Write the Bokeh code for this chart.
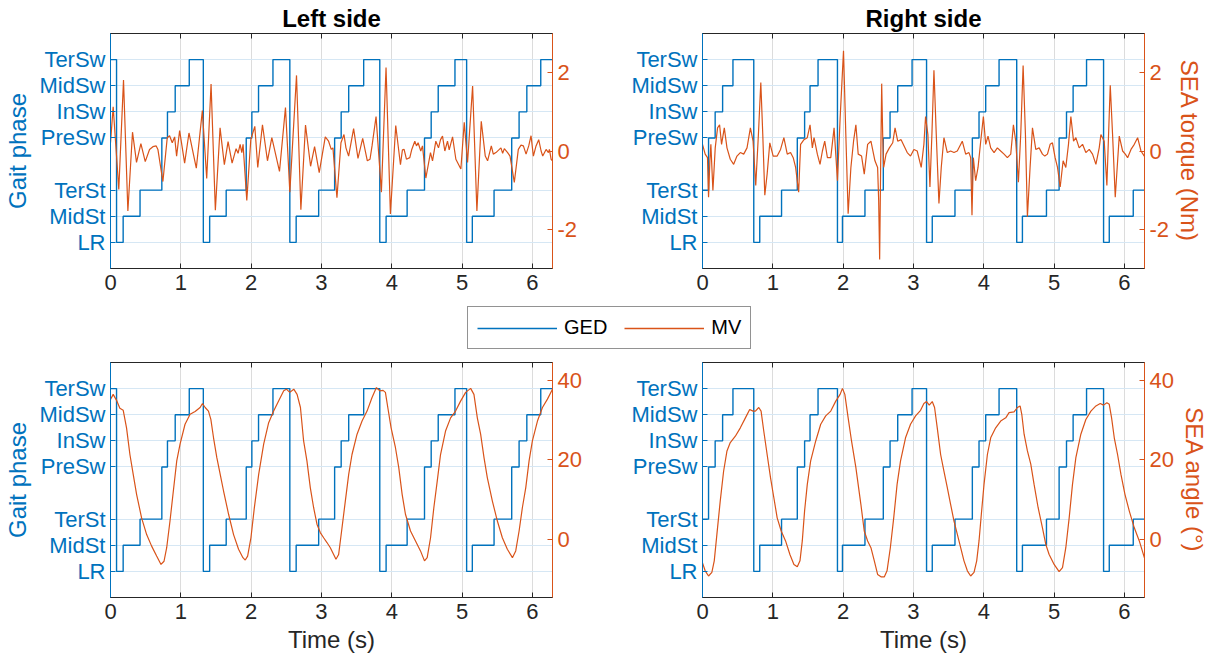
from bokeh.plotting import figure
from bokeh.models import Range1d, LinearAxis, FixedTicker, Legend, LegendItem, CustomLabelingPolicy
from bokeh.layouts import column, row
from bokeh.embed import file_html
from bokeh.resources import INLINE

BLUE = "#0072BD"
ORANGE = "#D95319"
DARK = "#262626"
FONT = "Liberation Sans"

phase_labels = ["LR", "MidSt", "TerSt", "PreSw", "InSw", "MidSw", "TerSw"]
phase_levels = [1, 2, 3, 5, 6, 7, 8]
x_ticks = [0, 1, 2, 3, 4, 5, 6]
torque_ticks = [-2, 0, 2]
angle_ticks = [0, 20, 40]

# GED gait-phase sequence, left side (change times in s, phase entered)
left_ged_t = [0, 0.086, 0.18, 0.42, 0.73, 0.81, 0.92, 1.12, 1.32, 1.41, 1.645, 1.93, 2.01, 2.105,
              2.31, 2.55, 2.64, 2.96, 3.187, 3.28, 3.387, 3.60, 3.829, 3.919, 4.218, 4.465, 4.56,
              4.66, 4.898, 5.064, 5.145, 5.454, 5.705, 5.81, 5.92, 6.118, 6.29]
left_ged_phase = ["TerSw", "LR", "MidSt", "TerSt", "PreSw", "InSw", "MidSw", "TerSw", "LR", "MidSt",
                  "TerSt", "PreSw", "InSw", "MidSw", "TerSw", "LR", "MidSt", "TerSt", "PreSw", "InSw",
                  "MidSw", "TerSw", "LR", "MidSt", "TerSt", "PreSw", "InSw", "MidSw", "TerSw", "LR",
                  "MidSt", "TerSt", "PreSw", "InSw", "MidSw", "TerSw", "TerSw"]

# GED gait-phase sequence, right side
right_ged_t = [0, 0.086, 0.18, 0.286, 0.433, 0.729, 0.814, 1.124, 1.348, 1.452, 1.529, 1.643, 1.919,
               1.99, 2.31, 2.571, 2.667, 2.776, 2.98, 3.186, 3.267, 3.59, 3.837, 3.932, 4.027, 4.217,
               4.468, 4.549, 4.891, 5.071, 5.176, 5.27, 5.461, 5.703, 5.784, 6.125, 6.29]
right_ged_phase = ["TerSt", "PreSw", "InSw", "MidSw", "TerSw", "LR", "MidSt", "TerSt", "PreSw", "InSw",
                   "MidSw", "TerSw", "LR", "MidSt", "TerSt", "PreSw", "InSw", "MidSw", "TerSw", "LR",
                   "MidSt", "TerSt", "PreSw", "InSw", "MidSw", "TerSw", "LR", "MidSt", "TerSt", "PreSw",
                   "InSw", "MidSw", "TerSw", "LR", "MidSt", "TerSt", "TerSt"]

# SEA torque (Nm), left side
left_torque_t = [0, 0.038, 0.118, 0.185, 0.247, 0.313, 0.370, 0.432, 0.494, 0.555, 0.603, 0.650, 0.674,
                 0.745, 0.807, 0.840, 0.878, 0.912, 0.940, 0.983, 1.054, 1.116, 1.220, 1.306, 1.368,
                 1.430, 1.491, 1.558, 1.619, 1.672, 1.729, 1.786, 1.814, 1.843, 1.867, 1.885, 1.938,
                 1.995, 2.052, 2.094, 2.161, 2.232, 2.294, 2.403, 2.488, 2.550, 2.645, 2.707, 2.773,
                 2.845, 2.902, 2.968, 3.054, 3.101, 3.139, 3.163, 3.220, 3.277, 3.320, 3.348, 3.386,
                 3.457, 3.519, 3.586, 3.652, 3.690, 3.719, 3.776, 3.852, 3.918, 3.980, 4.056, 4.123,
                 4.151, 4.175, 4.208, 4.256, 4.284, 4.327, 4.351, 4.374, 4.412, 4.436, 4.484, 4.550,
                 4.579, 4.626, 4.664, 4.693, 4.721, 4.754, 4.792, 4.816, 4.864, 4.911, 4.982, 5.030,
                 5.077, 5.149, 5.210, 5.272, 5.329, 5.362, 5.415, 5.443, 5.481, 5.529, 5.552, 5.576,
                 5.600, 5.647, 5.681, 5.742, 5.799, 5.837, 5.871, 5.909, 5.947, 5.980, 6.013, 6.051,
                 6.089, 6.123, 6.146, 6.194, 6.227, 6.241, 6.265, 6.285]
left_torque = [0.21, 1.13, -0.98, 1.81, -1.53, 0.48, -0.29, 0.19, -0.27, 0.04, 0.11, 0.13, 0.04,
               -0.78, 0.34, 0.39, 0.21, 0.36, -0.13, 0.52, -0.31, 0.46, -0.44, 1.03, -0.70,
               1.71, -1.51, 0.59, -0.35, 0.24, -0.31, 0.06, -0.06, 0.17, -0.04, 0.17, -1.26,
               0.29, 0.63, -0.42, 0.67, -0.25, 0.34, -0.52, 1.11, -1.05, 1.93, -1.50, 0.66,
               -0.39, 0.11, -0.55, 0.36, 0.25, 0.04, 0.08, -1.19, 0.21, 0.42, 0.08, -0.13,
               0.57, -0.19, 0.32, -0.25, -0.21, 0.13, 0.88, -1.05, 2.13, -1.61, 0.65, -0.35,
               0.03, 0.04, -0.21, -0.17, 0.04, 0.25, 0.13, 0.21, 0.0, 0.13, -0.69, -0.04,
               -0.25, 0.25, 0.08, 0.29, 0.38, 0.0, 0.25, 0.03, 0.36, -0.21, -0.46, 0.73,
               -0.29, 1.66, -1.53, 0.76, -0.13, -0.25, 0.13, -0.08, -0.04, 0.04, 0.08, -0.06,
               0.06, -0.04, -0.13, -0.80, 0.04, 0.15, 0.13, -0.08, 0.13, 0.39, -0.13, 0.13,
               0.29, 0.0, -0.13, 0.04, -0.04, 0.04, -0.21, -0.25]

# SEA torque (Nm), right side
right_torque_t = [0, 0.038, 0.071, 0.086, 0.105, 0.119, 0.148, 0.181, 0.214, 0.243, 0.271, 0.310, 0.348,
                  0.395, 0.443, 0.490, 0.538, 0.586, 0.633, 0.681, 0.719, 0.757, 0.795, 0.829, 0.857,
                  0.886, 0.919, 0.957, 1.005, 1.062, 1.110, 1.157, 1.205, 1.252, 1.290, 1.324, 1.367,
                  1.395, 1.443, 1.490, 1.529, 1.562, 1.586, 1.633, 1.671, 1.705, 1.738, 1.776, 1.824,
                  1.871, 1.919, 1.957, 2.005, 2.038, 2.071, 2.110, 2.148, 2.181, 2.214, 2.262, 2.300,
                  2.348, 2.395, 2.452, 2.490, 2.505, 2.519, 2.533, 2.548, 2.562, 2.576, 2.610, 2.657,
                  2.705, 2.738, 2.776, 2.824, 2.911, 2.958, 3.006, 3.053, 3.110, 3.148, 3.172, 3.205,
                  3.234, 3.262, 3.291, 3.324, 3.362, 3.395, 3.433, 3.481, 3.528, 3.576, 3.623, 3.694,
                  3.742, 3.789, 3.813, 3.832, 3.851, 3.884, 3.918, 3.956, 3.994, 4.027, 4.060, 4.098,
                  4.146, 4.193, 4.240, 4.288, 4.335, 4.383, 4.421, 4.454, 4.492, 4.525, 4.559, 4.592,
                  4.620, 4.658, 4.692, 4.739, 4.787, 4.834, 4.867, 4.905, 4.943, 4.976, 5.014, 5.048,
                  5.086, 5.128, 5.166, 5.204, 5.238, 5.276, 5.309, 5.356, 5.404, 5.451, 5.499, 5.546,
                  5.594, 5.641, 5.665, 5.712, 5.750, 5.774, 5.798, 5.831, 5.869, 5.903, 5.926, 5.974,
                  6.012, 6.045, 6.093, 6.140, 6.187, 6.235, 6.282]
right_torque = [0.17, -0.08, -0.17, -1.18, -0.25, 0.17, -1.01, 0.08, 0.59, 0.67, 0.17, 0.59, 0.08,
                -0.21, -0.34, -0.13, -0.04, -0.08, 0.08, 0.59, 0.25, -0.88, 0.42, 1.75, 0.42,
                -1.13, -0.59, 0.21, -0.13, -0.13, 0.04, 0.34, -0.08, -0.04, -0.17, -0.42, -1.05,
                0.17, 0.29, 0.34, 0.67, 0.08, 0.34, -0.08, -0.34, 0.0, 0.25, -0.17, -0.17,
                0.59, -0.76, 0.84, 2.56, 0.42, -1.60, -0.42, 0.25, 0.67, -0.08, -0.13, -0.59,
                0.17, 0.25, -0.25, -0.42, -1.26, -2.77, -0.42, 1.72, 0.42, -0.42, -0.08, 0.08,
                0.21, 0.59, 0.25, 0.29, -0.04, -0.13, 0.04, 0.0, -0.42, 0.17, 0.88, 0.42,
                -0.92, 0.42, 2.06, 0.42, -1.34, -0.42, 0.34, -0.04, 0.0, -0.04, 0.0, 0.25,
                -0.08, -0.04, -0.17, -1.64, -0.17, -0.76, -0.42, 0.25, 0.88, 0.17, 0.38, 0.08,
                -0.04, 0.08, 0.0, -0.08, -0.17, -0.08, 0.67, 0.25, -0.80, 0.42, 2.18, 0.42,
                -1.68, -0.42, 0.59, 0.04, 0.08, -0.08, -0.13, -0.08, 0.17, 0.21, -0.17, -0.42,
                -0.92, -0.25, -0.42, 0.17, 0.88, 0.25, 0.34, 0.08, 0.17, -0.04, 0.04, -0.08,
                -0.34, 0.08, 0.42, 0.25, -0.88, 0.42, 1.68, 0.42, -1.18, -0.25, 0.38, 0.0,
                -0.08, -0.17, 0.04, 0.17, 0.34, 0.0, -0.13]

# SEA angle (deg), left side
left_angle_t = [0, 0.038, 0.086, 0.133, 0.181, 0.228, 0.276, 0.323, 0.371, 0.442, 0.514, 0.585, 0.656,
                0.718, 0.761, 0.799, 0.846, 0.894, 0.942, 0.989, 1.060, 1.132, 1.203, 1.274, 1.308,
                1.346, 1.393, 1.427, 1.465, 1.512, 1.560, 1.607, 1.679, 1.750, 1.821, 1.883, 1.916,
                1.950, 1.997, 2.045, 2.107, 2.178, 2.249, 2.320, 2.392, 2.463, 2.501, 2.549, 2.606,
                2.653, 2.701, 2.746, 2.793, 2.841, 2.888, 2.936, 2.983, 3.031, 3.078, 3.126, 3.173,
                3.206, 3.244, 3.292, 3.339, 3.387, 3.434, 3.506, 3.577, 3.648, 3.719, 3.781, 3.829,
                3.876, 3.909, 3.943, 3.990, 4.052, 4.099, 4.147, 4.194, 4.266, 4.337, 4.408, 4.465,
                4.503, 4.551, 4.598, 4.646, 4.693, 4.764, 4.836, 4.907, 4.978, 5.050, 5.121, 5.168,
                5.216, 5.263, 5.311, 5.358, 5.430, 5.501, 5.572, 5.643, 5.715, 5.762, 5.810, 5.857,
                5.905, 5.952, 5.999, 6.071, 6.142, 6.213, 6.285]
left_angle = [35.1, 36.4, 34.9, 32.9, 32.4, 28.0, 21.3, 16.3, 11.3, 5.4, 1.2, -1.7, -4.2,
              -6.3, -5.5, -2.1, 4.6, 12.2, 19.7, 23.9, 28.9, 31.4, 32.1, 33.1, 34.1,
              33.1, 32.2, 30.1, 25.5, 20.5, 16.3, 12.2, 6.3, 1.2, -2.5, -4.6, -5.2,
              -4.2, 0.4, 7.9, 16.3, 23.9, 29.3, 32.2, 34.8, 37.3, 37.7, 36.9, 37.7,
              36.4, 33.1, 24.7, 19.7, 13.0, 8.0, 3.8, 1.7, 0.4, -0.8, -2.1, -3.8,
              -5.0, -3.8, 2.9, 9.6, 16.3, 21.3, 26.4, 29.7, 32.2, 35.6, 38.1, 37.3,
              37.4, 36.9, 33.1, 28.0, 23.0, 18.0, 11.3, 6.3, 2.1, -0.4, -2.9, -5.4,
              -4.6, 0.4, 8.0, 14.6, 21.3, 27.2, 30.5, 32.2, 34.7, 36.9, 37.9, 36.4,
              30.5, 26.4, 20.5, 15.5, 9.6, 4.6, 0.4, -2.5, -4.6, -2.9, 2.1, 8.0,
              13.0, 19.7, 24.7, 29.7, 33.1, 35.2, 37.7]

# SEA angle (deg), right side
right_angle_t = [0, 0.038, 0.086, 0.133, 0.167, 0.205, 0.252, 0.300, 0.348, 0.395, 0.467, 0.538, 0.610,
                 0.671, 0.719, 0.752, 0.800, 0.833, 0.871, 0.919, 0.967, 1.014, 1.062, 1.119, 1.181,
                 1.243, 1.300, 1.348, 1.386, 1.419, 1.452, 1.490, 1.538, 1.610, 1.681, 1.752, 1.824,
                 1.895, 1.957, 1.990, 2.024, 2.071, 2.119, 2.181, 2.252, 2.300, 2.348, 2.395, 2.443,
                 2.490, 2.538, 2.586, 2.624, 2.671, 2.719, 2.767, 2.816, 2.887, 2.958, 3.030, 3.101,
                 3.148, 3.186, 3.224, 3.267, 3.300, 3.338, 3.386, 3.433, 3.481, 3.528, 3.576, 3.623,
                 3.671, 3.718, 3.766, 3.813, 3.861, 3.899, 3.932, 3.965, 4.003, 4.051, 4.098, 4.169,
                 4.240, 4.312, 4.359, 4.430, 4.478, 4.516, 4.540, 4.573, 4.620, 4.668, 4.715, 4.772,
                 4.834, 4.882, 4.929, 5.000, 5.071, 5.119, 5.166, 5.214, 5.261, 5.309, 5.380, 5.451,
                 5.523, 5.594, 5.656, 5.703, 5.750, 5.784, 5.817, 5.855, 5.902, 5.950, 6.007, 6.069,
                 6.140, 6.211, 6.297]
right_angle = [-5.9, -7.9, -9.2, -8.3, -5.4, 1.3, 9.6, 17.1, 22.2, 24.3, 25.9, 28.0, 30.5,
               32.6, 32.2, 32.2, 33.1, 32.2, 27.2, 21.3, 15.5, 10.5, 5.4, 2.1, -0.4,
               -3.8, -6.3, -6.9, -5.4, -0.4, 7.2, 13.8, 19.7, 24.7, 28.9, 31.0, 32.2,
               34.7, 36.4, 37.9, 36.4, 30.5, 24.7, 18.0, 8.8, 2.1, -0.4, -2.1, -5.4,
               -8.8, -9.4, -9.4, -7.9, -2.1, 5.4, 13.8, 19.7, 25.5, 28.9, 31.0, 32.4,
               34.1, 34.6, 33.7, 34.6, 33.1, 28.0, 21.3, 17.1, 13.0, 8.8, 4.6, 1.3,
               -2.1, -5.4, -7.9, -9.2, -8.3, -5.4, -0.4, 6.3, 13.8, 21.3, 25.5, 28.0,
               29.7, 30.5, 31.8, 32.0, 33.1, 33.5, 31.4, 26.4, 22.2, 18.9, 13.8, 8.0,
               2.9, -1.3, -3.8, -6.3, -8.1, -7.1, -2.1, 5.4, 13.8, 20.5, 26.4, 30.1,
               32.2, 33.5, 34.1, 33.7, 34.3, 33.9, 30.5, 25.5, 21.3, 16.3, 11.3, 7.1,
               2.9, -0.4, -5.4]

level_of = dict(zip(phase_labels, phase_levels))

FW, FH = 442, 235
X_END = 6.285

HIDE_LABELS_JS = """
try {
  for (let i = 0; i < indices.size; i++) { indices.set(i, false) }
  return indices
} catch (e) {
  return {ones: function* () {}, count: 0, size: 0}
}
"""


def make_panel(ged_t, ged_phase, mv_t, mv_v, r_lo, r_hi, r_ticks, title, left_label, right_label,
               xlabel, b_top, b_bottom, b_right):
    p = figure(frame_width=FW, frame_height=FH, x_range=Range1d(0, X_END), y_range=Range1d(0, 9),
               output_backend="svg", toolbar_location=None,
               min_border_left=110, min_border_right=b_right, min_border_top=b_top,
               min_border_bottom=b_bottom, outline_line_color=DARK, outline_line_width=1,
               background_fill_color="white", border_fill_color="white")
    p.extra_y_ranges = {"r": Range1d(r_lo, r_hi)}

    # axes
    xa = p.xaxis[0]
    xa.ticker = FixedTicker(ticks=x_ticks)
    xa.axis_line_color = DARK
    xa.major_tick_line_color = DARK
    xa.major_tick_in = 5
    xa.major_tick_out = 0
    xa.minor_tick_line_color = None
    xa.major_label_text_font = FONT
    xa.major_label_text_font_size = "22px"
    xa.major_label_text_color = DARK
    xa.major_label_standoff = 6
    if xlabel:
        xa.axis_label = xlabel
        xa.axis_label_text_font = FONT
        xa.axis_label_text_font_size = "24px"
        xa.axis_label_text_font_style = "normal"
        xa.axis_label_text_color = DARK
        xa.axis_label_standoff = 4

    top = LinearAxis(ticker=FixedTicker(ticks=x_ticks),
                     major_label_policy=CustomLabelingPolicy(code=HIDE_LABELS_JS),
                     major_label_text_font_size="0px", major_label_standoff=0,
                     axis_line_color=DARK, major_tick_line_color=DARK,
                     major_tick_in=5, major_tick_out=0, minor_tick_line_color=None)
    p.add_layout(top, "above")

    ya = p.yaxis[0]
    ya.ticker = FixedTicker(ticks=phase_levels)
    ya.major_label_overrides = {lv: lb for lv, lb in zip(phase_levels, phase_labels)}
    ya.axis_line_color = BLUE
    ya.major_tick_line_color = BLUE
    ya.major_tick_in = 5
    ya.major_tick_out = 0
    ya.minor_tick_line_color = None
    ya.major_label_text_font = FONT
    ya.major_label_text_font_size = "22px"
    ya.major_label_text_color = BLUE
    ya.major_label_standoff = 5
    if left_label:
        ya.axis_label = left_label
        ya.axis_label_text_font = FONT
        ya.axis_label_text_font_size = "24px"
        ya.axis_label_text_font_style = "normal"
        ya.axis_label_text_color = BLUE
        ya.axis_label_standoff = 5

    ra = LinearAxis(y_range_name="r", ticker=FixedTicker(ticks=r_ticks),
                    major_label_overrides={t: str(t) for t in r_ticks},
                    axis_line_color=ORANGE, major_tick_line_color=ORANGE,
                    major_tick_in=5, major_tick_out=0, minor_tick_line_color=None,
                    major_label_text_font=FONT, major_label_text_font_size="22px",
                    major_label_text_color=ORANGE, major_label_standoff=5)
    if right_label:
        ra.axis_label = right_label
        ra.axis_label_text_font = FONT
        ra.axis_label_text_font_size = "24px"
        ra.axis_label_text_font_style = "normal"
        ra.axis_label_text_color = ORANGE
        ra.axis_label_standoff = 4
    p.add_layout(ra, "right")

    # grids
    p.xgrid.ticker = FixedTicker(ticks=x_ticks)
    p.xgrid.grid_line_color = "#DCDCDC"
    p.xgrid.grid_line_width = 1
    p.ygrid.ticker = FixedTicker(ticks=phase_levels)
    p.ygrid.grid_line_color = "#D6E7F4"
    p.ygrid.grid_line_width = 1

    if title:
        p.title.text = title
        p.title.text_font = FONT
        p.title.text_font_size = "24px"
        p.title.text_font_style = "bold"
        p.title.text_color = "black"
        p.title.align = "center"
        p.title.standoff = 4
        p.title.offset = 0

    levels = [level_of[s] for s in ged_phase]
    r1 = p.step(ged_t, levels, mode="after", line_color=BLUE, line_width=1.4)
    r2 = p.line(mv_t, mv_v, y_range_name="r", line_color=ORANGE, line_width=1.2)
    return p, r1, r2


p1, g1, m1 = make_panel(left_ged_t, left_ged_phase, left_torque_t, left_torque, -3, 3, torque_ticks,
                        "Left side", "Gait phase", None, None, 32, 38, 40)
p2, g2, m2 = make_panel(right_ged_t, right_ged_phase, right_torque_t, right_torque, -3, 3, torque_ticks,
                        "Right side", None, "SEA torque (Nm)", None, 32, 38, 73)
p3, g3, m3 = make_panel(left_ged_t, left_ged_phase, left_angle_t, left_angle, -14.6, 44.4, angle_ticks,
                        None, "Gait phase", None, "Time (s)", 8, 69, 40)
p4, g4, m4 = make_panel(right_ged_t, right_ged_phase, right_angle_t, right_angle, -14.6, 44.4, angle_ticks,
                        None, None, "SEA angle (°)", "Time (s)", 8, 69, 73)

# legend strip (legend glyph renderers are kept outside the visible range)
lg = figure(width=1217, height=48, x_range=Range1d(0, 1), y_range=Range1d(0, 1),
            x_axis_type=None, y_axis_type=None, output_backend="svg", toolbar_location=None,
            min_border=0, outline_line_color=None)
lg.grid.visible = False
d1 = lg.line(x=[-3, -2], y=[-3, -2], line_color=BLUE, line_width=1.4)
d2 = lg.line(x=[-3, -2], y=[-3, -2], line_color=ORANGE, line_width=1.4)
legend = Legend(items=[LegendItem(label="GED", renderers=[d1]), LegendItem(label="MV", renderers=[d2])],
                location=(467, 5), orientation="horizontal",
                label_text_font=FONT, label_text_font_size="20px", label_text_color="black",
                glyph_width=80, glyph_height=18, label_height=18, label_standoff=7, spacing=17,
                padding=9, margin=0, border_line_color=DARK, border_line_width=1,
                background_fill_color="white", background_fill_alpha=1.0)
lg.add_layout(legend, "center")

layout = column(row(p1, p2), lg, row(p3, p4))

with open("out.html", "w") as f:
    f.write(file_html(layout, INLINE))
